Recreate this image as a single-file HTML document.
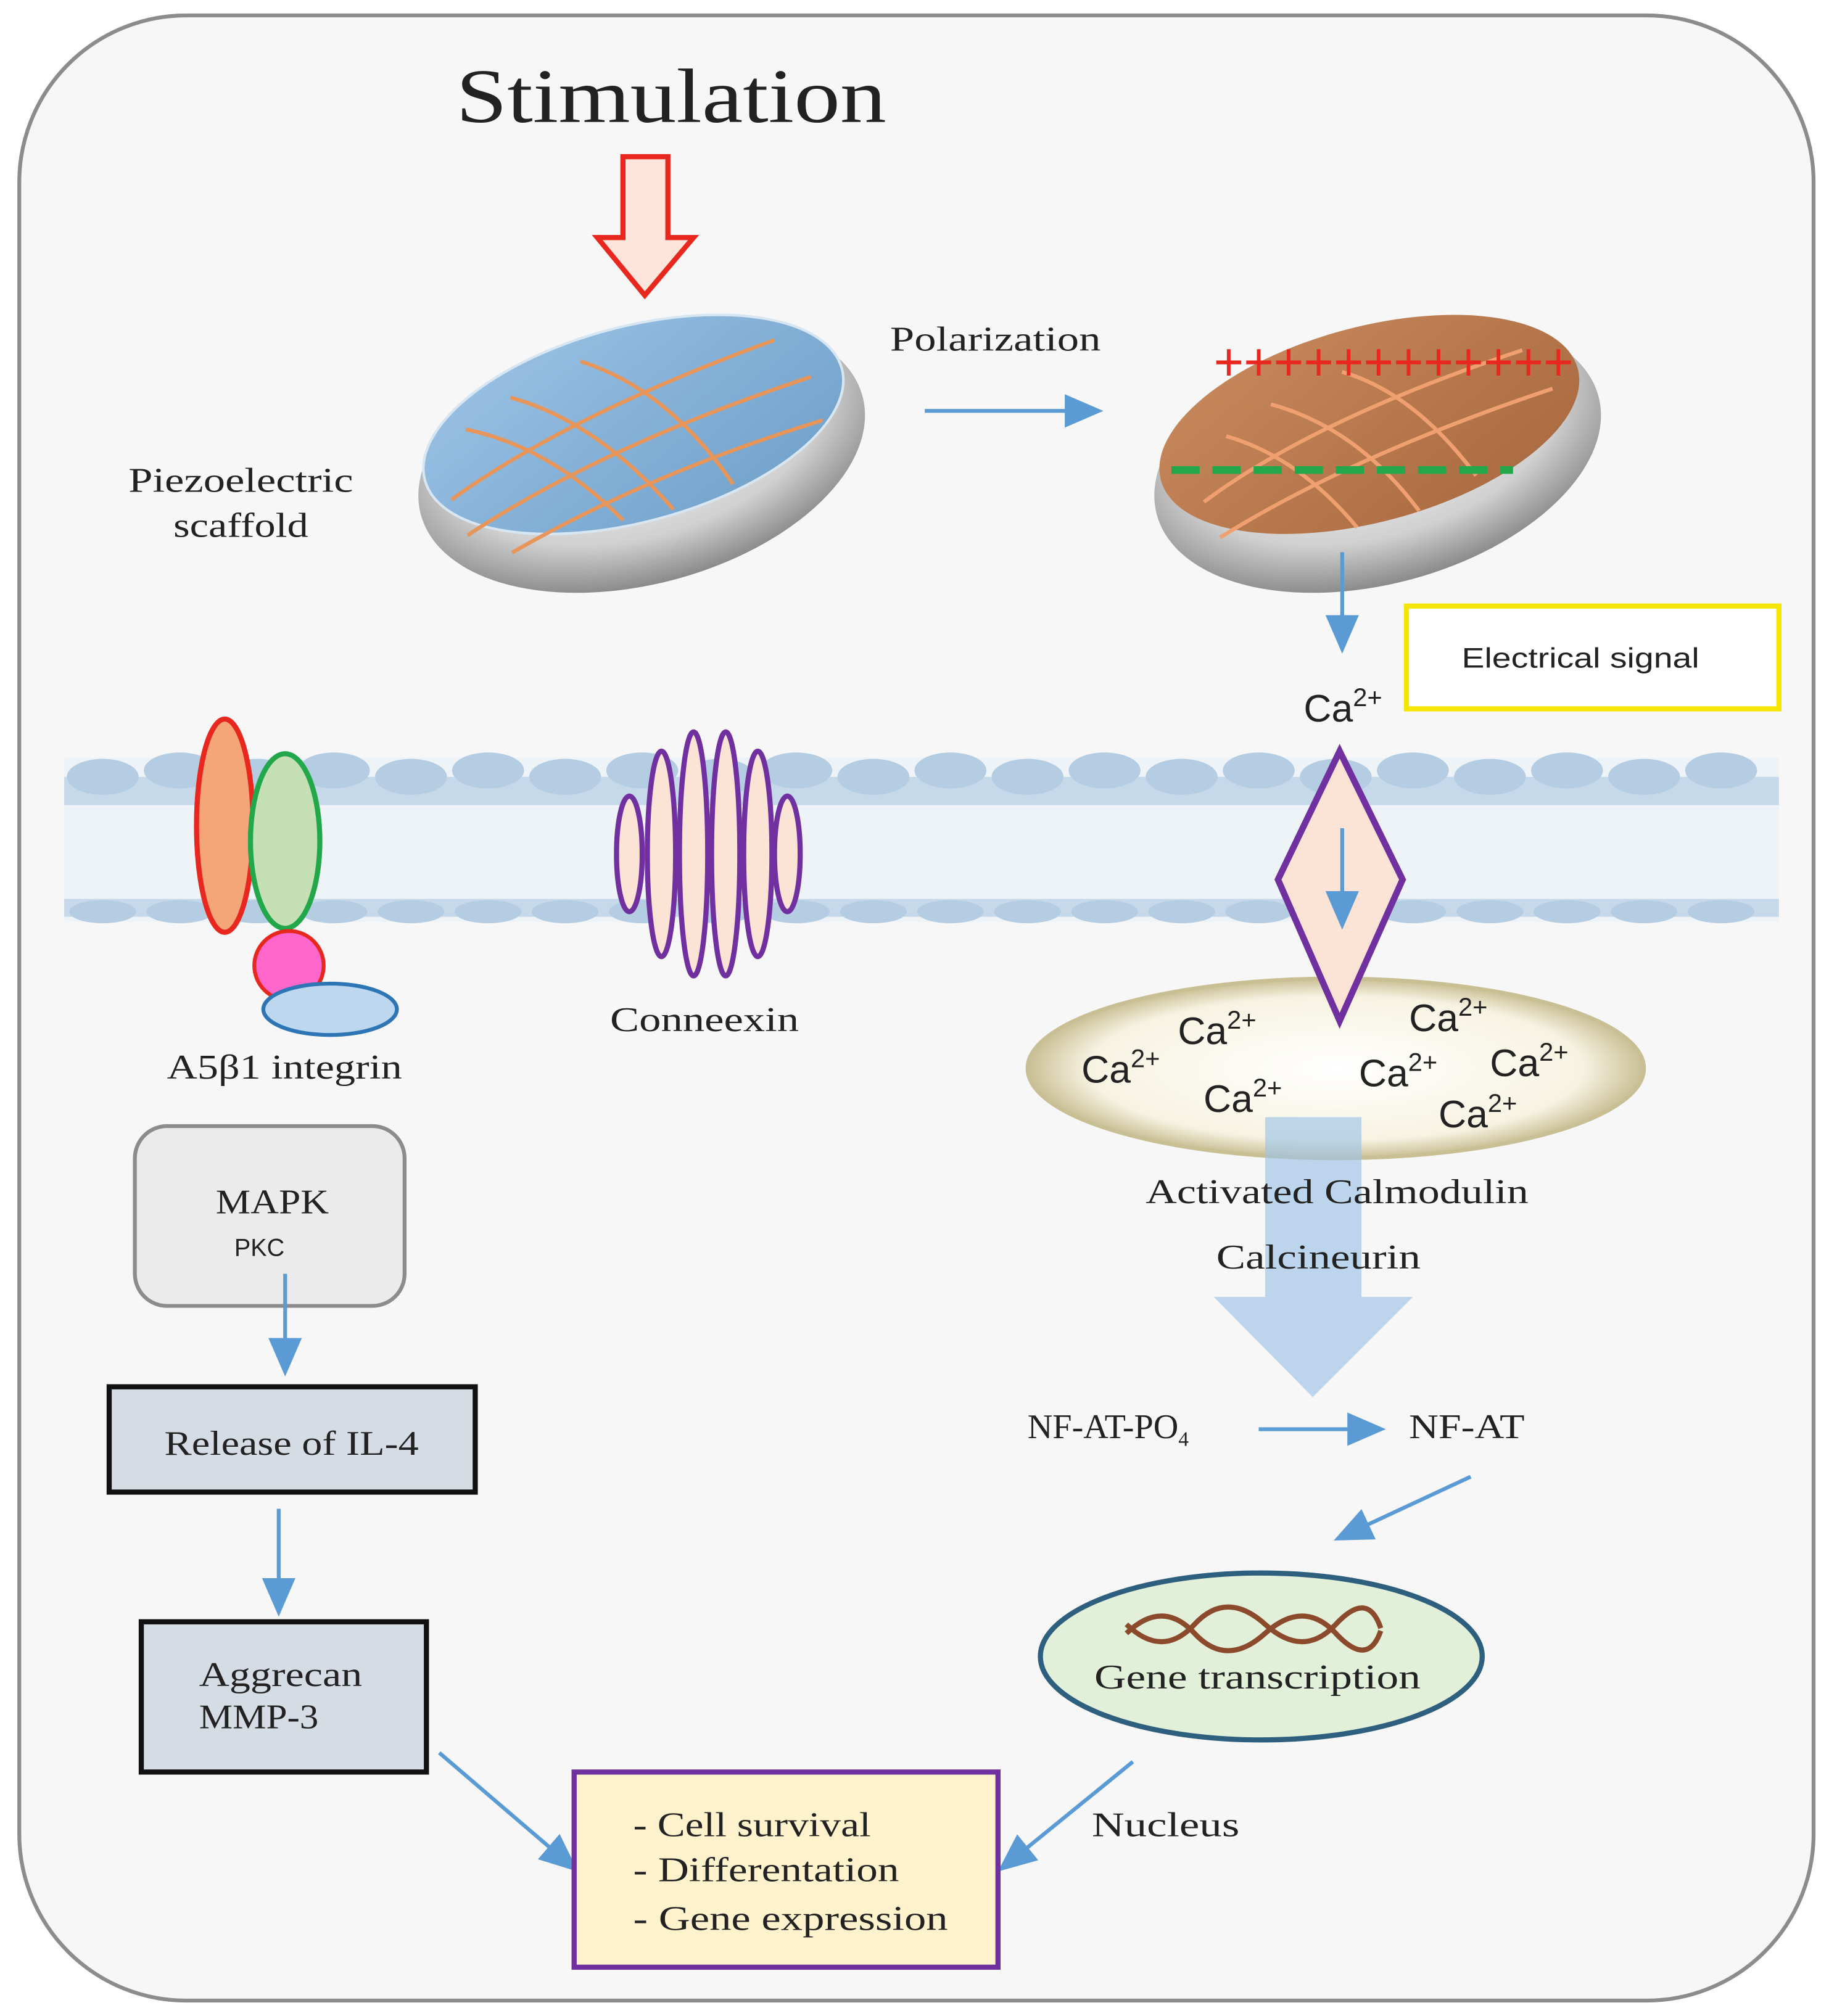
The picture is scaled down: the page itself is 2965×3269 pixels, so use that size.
<!DOCTYPE html>
<html><head><meta charset="utf-8"><style>
html,body{margin:0;padding:0;background:#fff}
svg{display:block}
.s{font-family:"Liberation Serif",serif;fill:#222}
.a{font-family:"Liberation Sans",sans-serif;fill:#222}
</style></head><body>
<svg width="2965" height="3269" viewBox="0 0 1424 1570" xmlns="http://www.w3.org/2000/svg">
<defs>
<marker id="ab" markerWidth="30" markerHeight="30" refX="26" refY="15" orient="auto" markerUnits="userSpaceOnUse"><path d="M0,2 L30,15 L0,28 z" fill="#5b9bd5"/></marker>
<radialGradient id="silver" cx="50%" cy="40%" r="60%"><stop offset="0" stop-color="#ffffff"/><stop offset="0.7" stop-color="#d0d0d0"/><stop offset="1" stop-color="#8a8a8a"/></radialGradient>
<linearGradient id="blue" x1="0" y1="0" x2="1" y2="1"><stop offset="0" stop-color="#9cc3e6"/><stop offset="1" stop-color="#6e9fc9"/></linearGradient>
<linearGradient id="orng" x1="0" y1="0" x2="1" y2="1"><stop offset="0" stop-color="#c98a5e"/><stop offset="1" stop-color="#a8683f"/></linearGradient>
<radialGradient id="ves" cx="50%" cy="50%" r="50%"><stop offset="0" stop-color="#ffffff"/><stop offset="0.8" stop-color="#f7f3e2"/><stop offset="1" stop-color="#c9bf95"/></radialGradient>
</defs>
<rect x="15" y="12" width="1397" height="1546" rx="130" fill="#f7f7f7" stroke="#8c8c8c" stroke-width="3"/>
<text x="355" y="95" class="s" font-size="60" textLength="335" lengthAdjust="spacingAndGlyphs">Stimulation</text>
<path d="M485,122 H520 V185 H540 L502,230 L465,185 H485 Z" fill="#fde5dc" stroke="#e8281e" stroke-width="4"/>
<!-- left disc -->
<g transform="rotate(-15 497 345)">
<ellipse cx="497" cy="355" rx="178" ry="100" fill="url(#silver)"/>
<ellipse cx="497" cy="330" rx="168" ry="76" fill="url(#blue)" stroke="#d8e6f2" stroke-width="2"/>
<g stroke="#e8955a" stroke-width="3" fill="none">
<path d="M370,300 Q430,330 470,400"/><path d="M410,285 Q470,320 510,402"/><path d="M470,272 Q530,310 560,395"/>
<path d="M345,350 Q450,310 620,295"/><path d="M350,380 Q470,340 640,330"/><path d="M380,402 Q500,370 640,365"/>
</g>
</g>
<text x="100" y="383" class="s" font-size="27" textLength="175" lengthAdjust="spacingAndGlyphs">Piezoelectric</text>
<text x="135" y="418" class="s" font-size="27" textLength="105" lengthAdjust="spacingAndGlyphs">scaffold</text>
<text x="693" y="273" class="s" font-size="27" textLength="164" lengthAdjust="spacingAndGlyphs">Polarization</text>
<line x1="720" y1="320" x2="855" y2="320" stroke="#5b9bd5" stroke-width="3" marker-end="url(#ab)"/>
<!-- right disc -->
<g transform="rotate(-15 1070 345)">
<ellipse cx="1070" cy="355" rx="178" ry="100" fill="url(#silver)"/>
<ellipse cx="1070" cy="330" rx="168" ry="76" fill="url(#orng)"/>
<g stroke="#f0a070" stroke-width="3" fill="none">
<path d="M960,310 Q1010,340 1040,405"/><path d="M1000,295 Q1060,330 1090,405"/><path d="M1060,285 Q1110,315 1140,390"/>
<path d="M930,355 Q1030,315 1200,305"/><path d="M935,385 Q1050,350 1215,340"/>
</g>
</g>
<text x="945" y="296" font-family="Liberation Sans,sans-serif" font-size="42" fill="#e8281e" textLength="280" lengthAdjust="spacingAndGlyphs">++++++++++++</text>
<line x1="912" y1="366" x2="1178" y2="366" stroke="#22a84a" stroke-width="6" stroke-dasharray="22,10"/>
<line x1="1045" y1="430" x2="1045" y2="505" stroke="#5b9bd5" stroke-width="3" marker-end="url(#ab)"/>
<rect x="1095" y="472" width="290" height="80" fill="#fff" stroke="#f5e600" stroke-width="4"/>
<text x="1138" y="520" class="a" font-size="22" textLength="185" lengthAdjust="spacingAndGlyphs">Electrical  signal</text>
<text x="1015" y="562" class="a" font-size="30">Ca<tspan font-size="20" dy="-12">2+</tspan></text>
<!-- membrane -->
<rect x="50" y="590" width="1335" height="128" fill="#eef3f8"/>
<rect x="50" y="605" width="1335" height="22" fill="#c6d9ea"/>
<rect x="50" y="700" width="1335" height="14" fill="#c6d9ea"/>
<g fill="#b5cde3">
<ellipse cx="80" cy="605" rx="28" ry="14"/><ellipse cx="140" cy="600" rx="28" ry="14"/><ellipse cx="200" cy="605" rx="28" ry="14"/><ellipse cx="260" cy="600" rx="28" ry="14"/><ellipse cx="320" cy="605" rx="28" ry="14"/><ellipse cx="380" cy="600" rx="28" ry="14"/><ellipse cx="440" cy="605" rx="28" ry="14"/><ellipse cx="500" cy="600" rx="28" ry="14"/><ellipse cx="560" cy="605" rx="28" ry="14"/><ellipse cx="620" cy="600" rx="28" ry="14"/><ellipse cx="680" cy="605" rx="28" ry="14"/><ellipse cx="740" cy="600" rx="28" ry="14"/><ellipse cx="800" cy="605" rx="28" ry="14"/><ellipse cx="860" cy="600" rx="28" ry="14"/><ellipse cx="920" cy="605" rx="28" ry="14"/><ellipse cx="980" cy="600" rx="28" ry="14"/><ellipse cx="1040" cy="605" rx="28" ry="14"/><ellipse cx="1100" cy="600" rx="28" ry="14"/><ellipse cx="1160" cy="605" rx="28" ry="14"/><ellipse cx="1220" cy="600" rx="28" ry="14"/><ellipse cx="1280" cy="605" rx="28" ry="14"/><ellipse cx="1340" cy="600" rx="28" ry="14"/>
<ellipse cx="80" cy="710" rx="26" ry="9"/><ellipse cx="140" cy="710" rx="26" ry="9"/><ellipse cx="200" cy="710" rx="26" ry="9"/><ellipse cx="260" cy="710" rx="26" ry="9"/><ellipse cx="320" cy="710" rx="26" ry="9"/><ellipse cx="380" cy="710" rx="26" ry="9"/><ellipse cx="440" cy="710" rx="26" ry="9"/><ellipse cx="500" cy="710" rx="26" ry="9"/><ellipse cx="560" cy="710" rx="26" ry="9"/><ellipse cx="620" cy="710" rx="26" ry="9"/><ellipse cx="680" cy="710" rx="26" ry="9"/><ellipse cx="740" cy="710" rx="26" ry="9"/><ellipse cx="800" cy="710" rx="26" ry="9"/><ellipse cx="860" cy="710" rx="26" ry="9"/><ellipse cx="920" cy="710" rx="26" ry="9"/><ellipse cx="980" cy="710" rx="26" ry="9"/><ellipse cx="1040" cy="710" rx="26" ry="9"/><ellipse cx="1100" cy="710" rx="26" ry="9"/><ellipse cx="1160" cy="710" rx="26" ry="9"/><ellipse cx="1220" cy="710" rx="26" ry="9"/><ellipse cx="1280" cy="710" rx="26" ry="9"/><ellipse cx="1340" cy="710" rx="26" ry="9"/>
</g>
<!-- integrin -->
<ellipse cx="175" cy="643" rx="22" ry="83" fill="#f4a67a" stroke="#e8281e" stroke-width="4"/>
<ellipse cx="222" cy="655" rx="27" ry="68" fill="#c5e0b4" stroke="#22a84a" stroke-width="4"/>
<circle cx="225" cy="752" r="27" fill="#ff66cc" stroke="#e8281e" stroke-width="3"/>
<ellipse cx="257" cy="786" rx="52" ry="20" fill="#bdd7ee" stroke="#2e75b6" stroke-width="3"/>
<text x="130" y="840" class="s" font-size="27" textLength="183" lengthAdjust="spacingAndGlyphs">A5β1  integrin</text>
<!-- connexin -->
<g fill="#fbe3d5" stroke="#7030a0" stroke-width="4">
<ellipse cx="490" cy="665" rx="10" ry="45"/><ellipse cx="515" cy="665" rx="11" ry="80"/><ellipse cx="540" cy="665" rx="11" ry="95"/><ellipse cx="565" cy="665" rx="11" ry="95"/><ellipse cx="590" cy="665" rx="11" ry="80"/><ellipse cx="613" cy="665" rx="10" ry="45"/>
</g>
<text x="475" y="803" class="s" font-size="27" textLength="147" lengthAdjust="spacingAndGlyphs">Conneexin</text>
<!-- vesicle -->
<ellipse cx="1040" cy="832" rx="240" ry="70" fill="url(#ves)" stroke="#c9bf95" stroke-width="3"/>
<path d="M1043,585 L1092,685 L1043,795 L995,685 Z" fill="#fbe3d5" stroke="#7030a0" stroke-width="5"/>
<line x1="1045" y1="645" x2="1045" y2="720" stroke="#5b9bd5" stroke-width="3" marker-end="url(#ab)"/>
<g class="a" font-size="30">
<text x="842" y="843">Ca<tspan font-size="20" dy="-12">2+</tspan></text>
<text x="917" y="813">Ca<tspan font-size="20" dy="-12">2+</tspan></text>
<text x="937" y="866">Ca<tspan font-size="20" dy="-12">2+</tspan></text>
<text x="1097" y="803">Ca<tspan font-size="20" dy="-12">2+</tspan></text>
<text x="1058" y="846">Ca<tspan font-size="20" dy="-12">2+</tspan></text>
<text x="1160" y="838">Ca<tspan font-size="20" dy="-12">2+</tspan></text>
<text x="1120" y="878">Ca<tspan font-size="20" dy="-12">2+</tspan></text>
</g>
<path d="M985,870 H1060 V1010 H1100 L1022,1088 L945,1010 H985 Z" fill="#9dc3e6" fill-opacity="0.65"/>
<text x="892" y="937" class="s" font-size="27" textLength="298" lengthAdjust="spacingAndGlyphs">Activated  Calmodulin</text>
<text x="947" y="988" class="s" font-size="27" textLength="159" lengthAdjust="spacingAndGlyphs">Calcineurin</text>
<!-- left flow -->
<rect x="105" y="877" width="210" height="140" rx="25" fill="#ebebeb" stroke="#8c8c8c" stroke-width="3"/>
<text x="168" y="945" class="s" font-size="27" textLength="88" lengthAdjust="spacingAndGlyphs">MAPK</text>
<text x="202" y="978" class="a" font-size="19" text-anchor="middle">PKC</text>
<line x1="222" y1="992" x2="222" y2="1068" stroke="#5b9bd5" stroke-width="3" marker-end="url(#ab)"/>
<rect x="85" y="1080" width="285" height="82" fill="#d6dce4" stroke="#111" stroke-width="4"/>
<text x="128" y="1133" class="s" font-size="27" textLength="198" lengthAdjust="spacingAndGlyphs">Release of IL-4</text>
<line x1="217" y1="1175" x2="217" y2="1255" stroke="#5b9bd5" stroke-width="3" marker-end="url(#ab)"/>
<rect x="110" y="1263" width="222" height="117" fill="#d6dce4" stroke="#111" stroke-width="4"/>
<text x="155" y="1313" class="s" font-size="27" textLength="127" lengthAdjust="spacingAndGlyphs">Aggrecan</text>
<text x="155" y="1346" class="s" font-size="27" textLength="93" lengthAdjust="spacingAndGlyphs">MMP-3</text>
<line x1="342" y1="1365" x2="447" y2="1455" stroke="#5b9bd5" stroke-width="3" marker-end="url(#ab)"/>
<!-- right flow -->
<text x="800" y="1120" class="s" font-size="27">NF-AT-PO<tspan font-size="16" dy="6">4</tspan></text>
<line x1="980" y1="1113" x2="1075" y2="1113" stroke="#5b9bd5" stroke-width="3" marker-end="url(#ab)"/>
<text x="1097" y="1120" class="s" font-size="27" textLength="90" lengthAdjust="spacingAndGlyphs">NF-AT</text>
<line x1="1145" y1="1150" x2="1042" y2="1198" stroke="#5b9bd5" stroke-width="3" marker-end="url(#ab)"/>
<ellipse cx="982" cy="1290" rx="172" ry="65" fill="#e2efd9" stroke="#2e5f7f" stroke-width="4"/>
<g stroke="#8b4a2b" stroke-width="4" fill="none">
<path d="M877,1272 Q905,1245 930,1272 T985,1272 T1040,1272 T1075,1270"/>
<path d="M877,1265 Q905,1292 930,1265 T985,1265 T1040,1265 T1075,1268"/>
</g>
<text x="852" y="1315" class="s" font-size="27" textLength="254" lengthAdjust="spacingAndGlyphs">Gene transcription</text>
<line x1="882" y1="1372" x2="780" y2="1455" stroke="#5b9bd5" stroke-width="3" marker-end="url(#ab)"/>
<text x="850" y="1430" class="s" font-size="27" textLength="115" lengthAdjust="spacingAndGlyphs">Nucleus</text>
<rect x="447" y="1380" width="330" height="152" fill="#fff2cc" stroke="#7030a0" stroke-width="4"/>
<text x="493" y="1430" class="s" font-size="27" textLength="185" lengthAdjust="spacingAndGlyphs">- Cell survival</text>
<text x="493" y="1465" class="s" font-size="27" textLength="207" lengthAdjust="spacingAndGlyphs">- Differentation</text>
<text x="493" y="1503" class="s" font-size="27" textLength="245" lengthAdjust="spacingAndGlyphs">- Gene expression</text>
</svg>
</body></html>
